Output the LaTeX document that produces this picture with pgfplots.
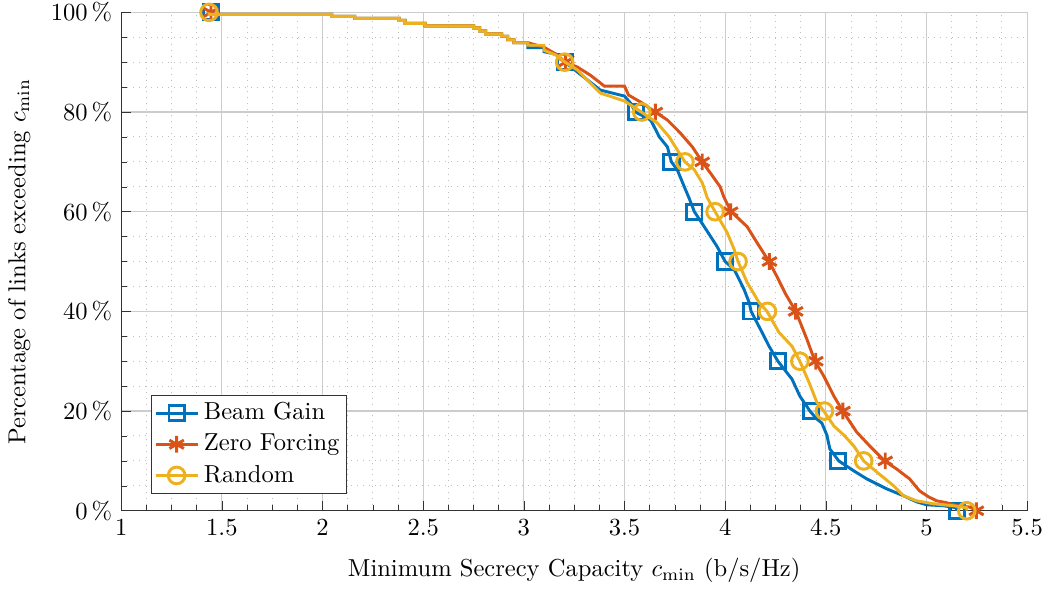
\documentclass[border=0pt]{standalone}
\usepackage{pgfplots}
\pgfplotsset{compat=1.18}

\definecolor{mBlue}{RGB}{0,114,189}
\definecolor{mOrange}{RGB}{217,83,25}
\definecolor{mYellow}{RGB}{237,177,32}

\begin{document}
\begin{tikzpicture}
\begin{axis}[
  width=369pt, height=203pt, scale only axis,
  xmin=1, xmax=5.5, ymin=0, ymax=100,
  xtick={1,1.5,...,5.5},
  ytick={0,20,...,100},
  minor x tick num=3, minor y tick num=3,
  axis x line*=bottom, axis y line*=left,
  axis line style={black!80},
  tick style={black!80},
  major tick length=4pt, minor tick length=2.5pt,
  xmajorgrids, ymajorgrids, xminorgrids, yminorgrids,
  major grid style={black!20, line width=0.5pt},
  minor grid style={black!25, dotted, line width=0.4pt},
  xticklabel={\pgfmathprintnumber{\tick}},
  yticklabel={$\pgfmathprintnumber{\tick}\,\%$},
  yticklabel style={inner ysep=1pt, inner xsep=3.5pt},
  xlabel={Minimum Secrecy Capacity $c_{\min}$ (b/s/Hz)},
  ylabel={Percentage of links exceeding $c_{\min}$},
  xlabel shift=2.4pt,
  ylabel shift=1.2pt,
  clip mode=individual,
  legend style={at={(0.033,0.034)}, anchor=south west, draw=black!80, fill=white,
    line width=0.5pt, font=\normalsize, row sep=0.3pt, inner sep=1pt},
  legend cell align=left,
]
% Beam Gain
\addplot[mBlue, line width=1.2pt, forget plot] coordinates {
(1.446,100)(1.446,99.6)(2.045,99.6)(2.045,99.2)(2.16,99.2)(2.16,98.8)(2.38,98.8)(2.38,98.4)
(2.41,98.4)(2.41,97.8)(2.51,97.8)(2.51,97.3)(2.75,97.3)(2.75,96.9)(2.78,96.9)(2.78,96.3)
(2.81,96.3)(2.81,95.7)(2.89,95.7)(2.89,95.2)(2.92,95.2)(2.92,94.5)(2.95,94.5)(2.95,93.9)
(3.02,93.9)(3.02,92.9)(3.10,92.9)(3.10,92.1)(3.16,91.6)(3.205,90)(3.267,88)(3.317,86.4)
(3.38,84.4)(3.50,83.2)(3.53,81.8)(3.554,80)(3.63,78.4)(3.673,75)(3.713,73)(3.733,70)
(3.762,68.4)(3.797,65)(3.82,62.8)(3.847,60)(3.896,57)(3.96,53)(4.0,50)(4.045,48.4)
(4.094,44.4)(4.119,41.8)(4.129,40)(4.183,35.8)(4.218,33)(4.262,30)(4.332,26.4)(4.371,23)
(4.421,20)(4.455,18.4)(4.48,17.6)(4.505,15.2)(4.52,12.4)(4.564,10)(4.639,8)(4.703,6.4)
(4.802,4.4)(4.886,3)(4.95,1.8)(5.0,1.2)(5.084,1.0)(5.15,0.6)(5.15,0)
};
\addplot[mBlue, only marks, mark=square, mark size=3.1pt, mark options={line width=1.2pt}, forget plot] coordinates {
(1.446,100)(3.205,90)(3.556,80)(3.733,70)(3.847,60)(4.0,50)(4.127,40)(4.264,30)(4.425,20)(4.562,10)(5.15,0)
};
% Zero Forcing
\addplot[mOrange, line width=1.2pt, forget plot] coordinates {
(1.446,100)(1.446,99.6)(2.045,99.6)(2.045,99.2)(2.16,99.2)(2.16,98.8)(2.38,98.8)(2.38,98.4)
(2.41,98.4)(2.41,97.8)(2.51,97.8)(2.51,97.3)(2.75,97.3)(2.75,96.9)(2.78,96.9)(2.78,96.3)
(2.81,96.3)(2.81,95.7)(2.89,95.7)(2.89,95.2)(2.92,95.2)(2.92,94.5)(2.95,94.5)(2.95,93.9)
(3.02,93.9)(3.10,93.0)(3.16,91.6)(3.205,90)(3.267,89)(3.33,87.4)(3.40,85.2)(3.50,85.2)
(3.52,83.4)(3.58,82)(3.653,80)(3.713,78.4)(3.777,75.8)(3.837,73)(3.886,70)(3.926,67.8)
(3.975,65)(3.995,62.8)(4.03,60)(4.109,57)(4.158,53.8)(4.218,50)(4.257,47)(4.30,43.5)
(4.351,40)(4.406,34.4)(4.446,30)(4.49,27)(4.54,23)(4.584,20)(4.653,15.8)(4.718,13)
(4.792,10)(4.851,8.4)(4.916,6.4)(4.965,4)(5.01,2.8)(5.05,2)(5.1,1.6)(5.15,1.0)(5.248,0.6)(5.248,0)
};
\addplot[mOrange, only marks, mark=asterisk, mark size=3.4pt, mark options={line width=1.2pt}, forget plot] coordinates {
(1.446,100)(3.207,90)(3.653,80)(3.886,70)(4.027,60)(4.22,50)(4.35,40)(4.45,30)(4.585,20)(4.795,10)(5.248,0)
};
% Random
\addplot[mYellow, line width=1.2pt, forget plot] coordinates {
(1.436,100)(1.436,99.6)(2.045,99.6)(2.045,99.2)(2.16,99.2)(2.16,98.8)(2.38,98.8)(2.38,98.4)
(2.41,98.4)(2.41,97.8)(2.51,97.8)(2.51,97.3)(2.75,97.3)(2.75,96.9)(2.78,96.9)(2.78,96.3)
(2.81,96.3)(2.81,95.7)(2.89,95.7)(2.89,95.2)(2.92,95.2)(2.92,94.5)(2.95,94.5)(2.95,93.9)
(3.02,93.9)(3.02,93.4)(3.10,93.4)(3.10,92.4)(3.16,91.4)(3.205,90)(3.267,88.4)(3.33,85.8)
(3.38,83.8)(3.50,82.2)(3.584,80)(3.663,77.8)(3.722,75)(3.762,72.4)(3.80,70)(3.847,68.4)
(3.886,65.8)(3.911,62.8)(3.95,60)(4.01,55.8)(4.045,52.4)(4.064,50)(4.109,45.8)(4.168,41.8)
(4.208,40)(4.267,35.8)(4.332,33)(4.371,30)(4.416,25.8)(4.455,21.8)(4.49,20)(4.54,17)
(4.589,15.2)(4.639,13)(4.688,10)(4.752,7.8)(4.837,5)(4.886,3)(4.95,2)(5.035,1.4)
(5.134,1.0)(5.20,0.6)(5.20,0)
};
\addplot[mYellow, only marks, mark=o, mark size=3.4pt, mark options={line width=1.2pt}, forget plot] coordinates {
(1.436,100)(3.203,90)(3.586,80)(3.80,70)(3.95,60)(4.064,50)(4.21,40)(4.371,30)(4.493,20)(4.688,10)(5.20,0)
};
\addlegendimage{mBlue, line width=1.2pt, mark=square, mark size=3.1pt}
\addlegendentry{Beam Gain}
\addlegendimage{mOrange, line width=1.2pt, mark=asterisk, mark size=3.4pt}
\addlegendentry{Zero Forcing}
\addlegendimage{mYellow, line width=1.2pt, mark=o, mark size=3.4pt}
\addlegendentry{Random}
\end{axis}
\end{tikzpicture}
\end{document}
